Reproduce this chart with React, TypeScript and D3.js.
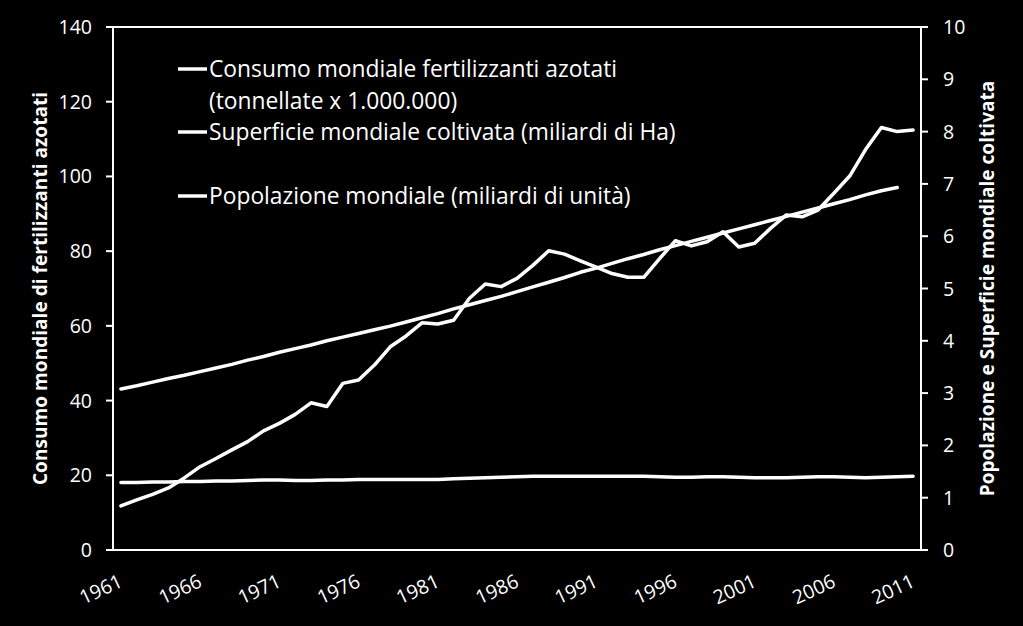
import React, { useEffect } from "react";
import * as d3 from "d3";

const years: number[] = [
  1961, 1962, 1963, 1964, 1965, 1966, 1967, 1968, 1969, 1970,
  1971, 1972, 1973, 1974, 1975, 1976, 1977, 1978, 1979, 1980,
  1981, 1982, 1983, 1984, 1985, 1986, 1987, 1988, 1989, 1990,
  1991, 1992, 1993, 1994, 1995, 1996, 1997, 1998, 1999, 2000,
  2001, 2002, 2003, 2004, 2005, 2006, 2007, 2008, 2009, 2010, 2011,
];

// Consumo mondiale fertilizzanti azotati (Mt) - left axis
const fertilizzanti: number[] = [
  11.8, 13.4, 14.9, 16.6, 19.3, 22.3, 24.5, 26.8, 29.0, 31.9,
  33.9, 36.3, 39.4, 38.4, 44.6, 45.5, 49.5, 54.4, 57.3, 60.8,
  60.5, 61.5, 67.4, 71.2, 70.5, 72.7, 76.2, 80.1, 79.2, 77.4,
  75.7, 74.0, 73.0, 73.0, 78.0, 82.8, 81.4, 82.5, 85.2, 81.1,
  82.1, 86.1, 89.7, 89.2, 91.0, 95.5, 100.1, 107.2, 113.1, 112.0, 112.4,
];

// Popolazione mondiale (miliardi) - right axis, 1961..2010
const popolazione: number[] = [
  3.08, 3.14, 3.21, 3.28, 3.34, 3.41, 3.48, 3.55, 3.63, 3.70,
  3.78, 3.85, 3.92, 4.00, 4.07, 4.14, 4.21, 4.28, 4.36, 4.44,
  4.52, 4.61, 4.69, 4.77, 4.85, 4.94, 5.03, 5.12, 5.21, 5.31,
  5.39, 5.48, 5.57, 5.65, 5.74, 5.82, 5.90, 5.98, 6.06, 6.14,
  6.22, 6.30, 6.38, 6.46, 6.54, 6.62, 6.70, 6.79, 6.87, 6.93,
];

// Superficie mondiale coltivata (miliardi di Ha) - right axis
const superficie: number[] = [
  1.29, 1.29, 1.30, 1.30, 1.31, 1.31, 1.32, 1.32, 1.33, 1.34,
  1.34, 1.33, 1.33, 1.34, 1.34, 1.35, 1.35, 1.35, 1.35, 1.35,
  1.35, 1.36, 1.37, 1.38, 1.39, 1.40, 1.41, 1.41, 1.41, 1.41,
  1.41, 1.41, 1.41, 1.41, 1.40, 1.39, 1.39, 1.40, 1.40, 1.39,
  1.38, 1.38, 1.38, 1.39, 1.40, 1.40, 1.39, 1.38, 1.39, 1.40, 1.41,
];

const leftTicks: number[] = [0, 20, 40, 60, 80, 100, 120, 140];
const rightTicks: number[] = [0, 1, 2, 3, 4, 5, 6, 7, 8, 9, 10];
const xTickYears: number[] = [1961, 1966, 1971, 1976, 1981, 1986, 1991, 1996, 2001, 2006, 2011];

const legendItems: string[][] = [
  ["Consumo mondiale fertilizzanti azotati", "(tonnellate x 1.000.000)"],
  ["Superficie mondiale coltivata (miliardi di Ha)"],
  ["Popolazione mondiale (miliardi di unità)"],
];

const leftTitle = "Consumo mondiale di fertilizzanti azotati";
const rightTitle = "Popolazione e Superficie mondiale coltivata";

const W = 1023;
const H = 626;
const L = 113;
const R = 921;
const T = 27;
const B = 550;
const FONT = "'Open Sans', 'Noto Sans', sans-serif";

export default function App() {
  useEffect(() => {
    document.body.style.margin = "0";
    document.body.style.background = "#000";
  }, []);

  const x = d3.scalePoint<number>().domain(years).range([L, R]).padding(0.5);
  const yL = d3.scaleLinear().domain([0, 140]).range([B, T]);
  const yR = d3.scaleLinear().domain([0, 10]).range([B, T]);

  const lineL = d3
    .line<number>()
    .x((_, i) => x(years[i]) as number)
    .y((d) => yL(d));
  const lineR = d3
    .line<number>()
    .x((_, i) => x(years[i]) as number)
    .y((d) => yR(d));

  const white = "#ffffff";
  const legendX = 178;
  const legendBaselines = [[77, 109], [140], [204]];

  return (
    <div style={{ position: "absolute", left: 0, top: 0, width: W, height: H, background: "#000" }}>
      <svg width={W} height={H} style={{ display: "block" }}>
        <rect x={0} y={0} width={W} height={H} fill="#000" />

        {/* frame */}
        <line x1={L - 7} x2={R + 7} y1={T} y2={T} stroke={white} strokeWidth={2} />
        <line x1={L - 7} x2={R + 7} y1={B} y2={B} stroke={white} strokeWidth={2} />
        <line x1={L} x2={L} y1={T} y2={B} stroke={white} strokeWidth={2} />
        <line x1={R} x2={R} y1={T} y2={B} stroke={white} strokeWidth={2} />

        {/* left ticks */}
        {leftTicks.map((t) => (
          <g key={"l" + t}>
            <line x1={L - 7} x2={L} y1={yL(t)} y2={yL(t)} stroke={white} strokeWidth={2} />
            <text
              x={92}
              y={yL(t)}
              dy="0.36em"
              textAnchor="end"
              fill={white}
              fontFamily={FONT}
              fontSize={19.5}
            >
              {t}
            </text>
          </g>
        ))}

        {/* right ticks */}
        {rightTicks.map((t) => (
          <g key={"r" + t}>
            <line x1={R} x2={R + 7} y1={yR(t)} y2={yR(t)} stroke={white} strokeWidth={2} />
            <text
              x={943}
              y={yR(t)}
              dy="0.36em"
              textAnchor="start"
              fill={white}
              fontFamily={FONT}
              fontSize={19.5}
            >
              {t}
            </text>
          </g>
        ))}

        {/* x labels */}
        {xTickYears.map((yr) => {
          const px = (x(yr) as number) + 3;
          const py = 586;
          return (
            <text
              key={"x" + yr}
              x={px}
              y={py}
              textAnchor="end"
              transform={`rotate(-25, ${px}, ${py})`}
              fill={white}
              fontFamily={FONT}
              fontSize={19.5}
            >
              {yr}
            </text>
          );
        })}

        {/* axis titles */}
        <text
          transform={`translate(47, ${(T + B) / 2}) rotate(-90)`}
          textAnchor="middle"
          fill={white}
          fontFamily={FONT}
          fontWeight="bold"
          fontSize={19.1}
        >
          {leftTitle}
        </text>
        <text
          transform={`translate(994, ${(T + B) / 2}) rotate(-90)`}
          textAnchor="middle"
          fill={white}
          fontFamily={FONT}
          fontWeight="bold"
          fontSize={19.1}
        >
          {rightTitle}
        </text>

        {/* series */}
        <path d={lineR(superficie) || ""} fill="none" stroke={white} strokeWidth={3.5} strokeLinejoin="round" strokeLinecap="round" />
        <path d={lineR(popolazione) || ""} fill="none" stroke={white} strokeWidth={3.5} strokeLinejoin="round" strokeLinecap="round" />
        <path d={lineL(fertilizzanti) || ""} fill="none" stroke={white} strokeWidth={3.5} strokeLinejoin="round" strokeLinecap="round" />

        {/* legend */}
        {legendItems.map((lines, i) => {
          const base = legendBaselines[i];
          const ly = base[0] - 8;
          return (
            <g key={"lg" + i}>
              <line x1={legendX} x2={legendX + 29} y1={ly} y2={ly} stroke={white} strokeWidth={3.5} />
              {lines.map((s, j) => (
                <text
                  key={j}
                  x={legendX + 31}
                  y={base[j]}
                  fill={white}
                  fontFamily={FONT}
                  fontSize={22.8}
                >
                  {s}
                </text>
              ))}
            </g>
          );
        })}
      </svg>
    </div>
  );
}
